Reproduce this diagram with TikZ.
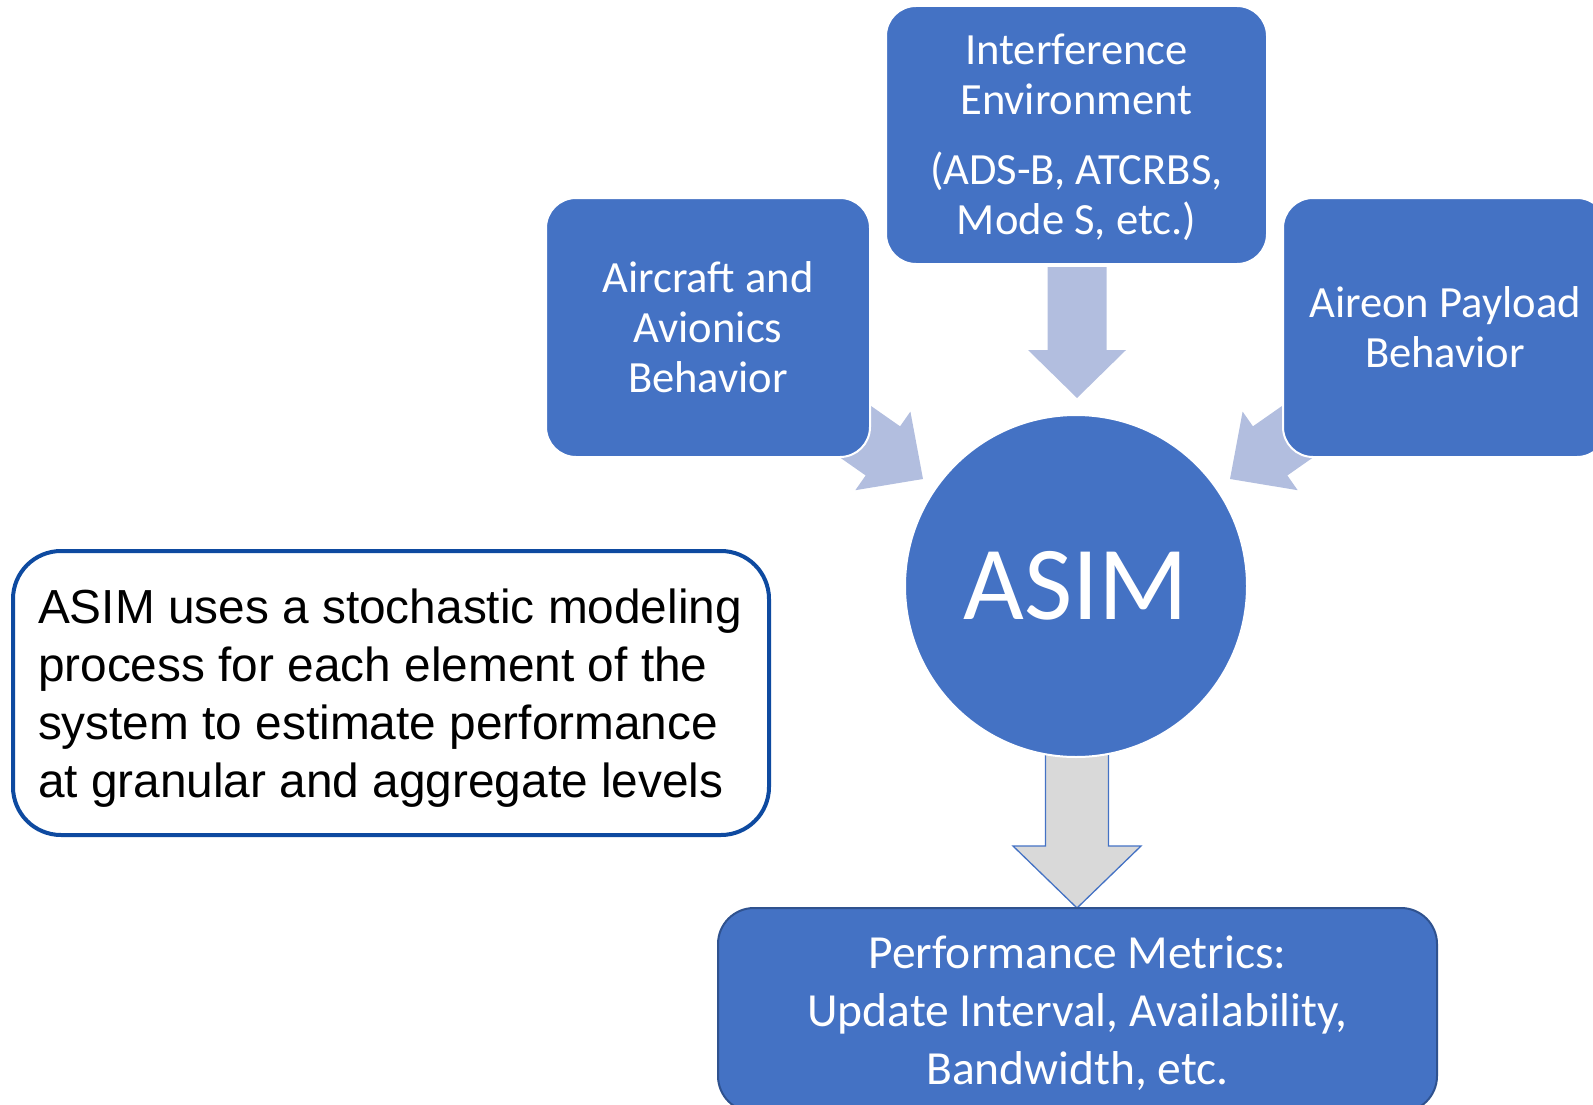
\documentclass[tikz,border=0pt]{standalone}
\usepackage{fontspec}
\setmainfont{Carlito}
\newfontfamily\arialfont{Liberation Sans}
\definecolor{boxblue}{RGB}{68,114,196}
\definecolor{arrowlight}{RGB}{178,190,223}
\definecolor{arrowgray}{RGB}{217,217,217}
\definecolor{calloutblue}{RGB}{14,74,160}
\definecolor{bottomline}{RGB}{47,82,143}
% block arrow: #1 style, #2 tip, #3 direction angle, #4 total length,
% #5 shaft half width, #6 head half width, #7 head length
\newcommand\blockarrow[7]{%
  \begin{scope}[shift={(#2)}, rotate=#3]
    \path[#1] (0,0) -- (-#7,#6) -- (-#7,#5) -- (-#4,#5) -- (-#4,-#5)
      -- (-#7,-#5) -- (-#7,-#6) -- cycle;
  \end{scope}}
\begin{document}
\begin{tikzpicture}[x=1pt,y=-1pt,
  inbox/.style={rounded corners=30, fill=boxblue, draw=white, line width=2pt,
    text=white, align=center, inner sep=0pt,
    font=\fontsize{44.6}{50}\selectfont},
  outbox/.style={rounded corners=36, fill=boxblue, draw=bottomline, line width=2pt,
    text=white, align=center, inner sep=0pt,
    font=\fontsize{47.5}{58}\selectfont},
  boxtext/.style={text=white, align=center, inner sep=0pt},
  feedarrow/.style={fill=arrowlight},
  resultarrow/.style={fill=arrowgray, draw=boxblue, line width=1.3pt},
  callout/.style={rounded corners=48, fill=white, draw=calloutblue, line width=4pt,
    minimum width=756, minimum height=284},
  callouttext/.style={text=black, align=flush left, inner sep=0pt, text width=706,
    font=\arialfont\fontsize{47.8}{58}\selectfont}]
\useasboundingbox (0,0) rectangle (1593,1105);
\clip (0,0) rectangle (1593,1105);

% arrow tips
\coordinate (tipTop) at (1077,398);
\coordinate (tipLeft) at (923,479);
\coordinate (tipRight) at (1230,479);
\coordinate (tipDown) at (1077,908);

% arrows feeding the model and its output
\blockarrow{feedarrow}{tipTop}{-90}{131}{29.5}{49}{48}
\blockarrow{feedarrow}{tipLeft}{-35}{131}{30}{48}{49}
\blockarrow{feedarrow}{tipRight}{-145}{131}{30}{48}{49}
\blockarrow{resultarrow}{tipDown}{-90}{160}{31.5}{64}{62}

% input boxes
\node[inbox, minimum width=381, minimum height=258] (interf) at (1076.5,135) {};
\node[boxtext, font=\fontsize{44.6}{50}\selectfont] (interfText) at (1076.5,137)
  {Interference\\Environment\\[20pt](ADS-B, ATCRBS,\\Mode S, etc.)};
\node[inbox, minimum width=324, minimum height=259] (aircraft) at (708,327.5)
  {Aircraft and\\Avionics\\Behavior};
\node[inbox, minimum width=324, minimum height=259] (payload) at (1445,327.5)
  {Aireon Payload\\Behavior};

% the model
\node[circle, fill=boxblue, draw=white, line width=2pt, minimum size=342,
  inner sep=0pt, text=white, font=\fontsize{105}{105}\selectfont]
  (asim) at (1076,586) {ASIM};

% output box
\node[outbox, minimum width=719, minimum height=204] (metrics) at (1077.5,1010) {};
\node[boxtext, font=\fontsize{47.5}{58}\selectfont] (metricsText) at (1077.5,1013)
  {Performance Metrics:\\Update Interval, Availability,\\Bandwidth, etc.};

% explanatory callout
\node[callout] (note) at (391,693) {};
\node[callouttext] (noteText) at (391,698)
  {ASIM uses a stochastic modeling\\process for each element of the\\system to estimate performance\\at granular and aggregate levels};
\end{tikzpicture}
\end{document}
